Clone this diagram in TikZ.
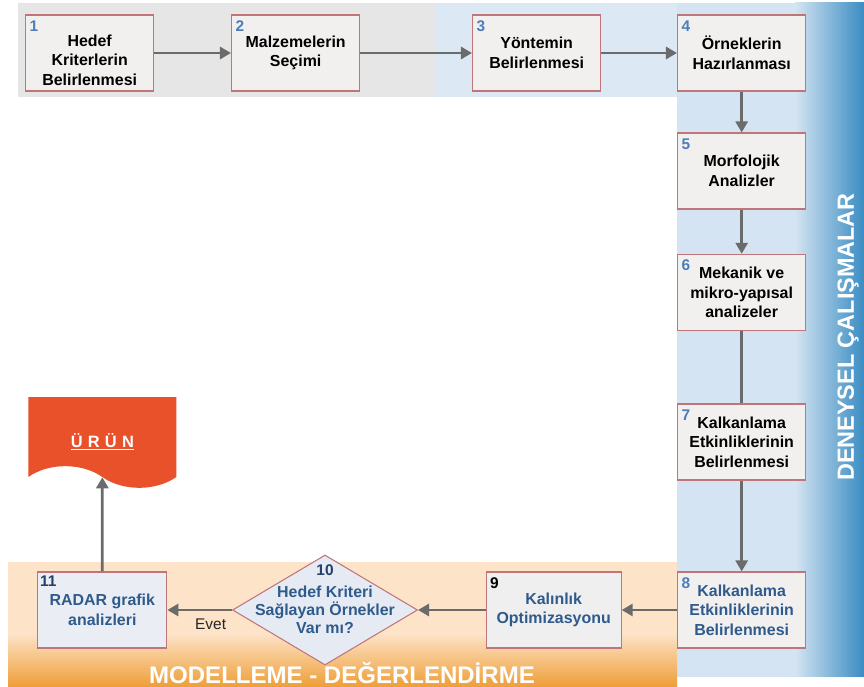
\documentclass[tikz,border=0pt]{standalone}
\usepackage{fontspec}
\setmainfont{Liberation Sans}
\usetikzlibrary{arrows.meta,positioning,shapes.geometric,shapes.symbols}

\definecolor{edgegray}{HTML}{6B6B6B}
\definecolor{boxline}{HTML}{C0757A}
\definecolor{boxfill}{HTML}{F2EFEF}
\definecolor{grayfill}{HTML}{EFEFEF}
\definecolor{bluefill}{HTML}{EAEEF4}
\definecolor{decfill}{HTML}{E6EBF3}
\definecolor{numblue}{HTML}{4A7EBB}
\definecolor{navy}{HTML}{24406A}
\definecolor{textblue}{HTML}{2F5A8C}
\definecolor{bandgray}{HTML}{E6E6E6}
\definecolor{bandblue}{HTML}{DCE8F4}
\definecolor{colblue}{HTML}{D4E4F2}
\definecolor{coldark}{HTML}{3A8CC2}
\definecolor{peach}{HTML}{FDE3C8}
\definecolor{deeporange}{HTML}{EE9E36}
\definecolor{urunred}{HTML}{E8512A}

\begin{document}
\begin{tikzpicture}[
    stage/.style={draw=boxline, line width=0.9pt, fill=boxfill, align=center, minimum width=3.85cm, minimum height=2.28cm, font=\fontsize{13.6}{16.6}\selectfont\bfseries},
    flow/.style={-{Triangle[length=3.3mm, width=3.6mm]}, draw=edgegray, line width=2.4pt},
    num/.style={anchor=north west, inner sep=0pt, font=\fontsize{13.2}{14}\selectfont\bfseries, text=numblue},
    decision/.style={diamond, draw=boxline, line width=0.9pt, fill=decfill, minimum width=5.55cm, minimum height=3.3cm, inner sep=0pt},
    band/.style={font=\fontsize{20.5}{24}\selectfont\bfseries, text=white}
]
    \useasboundingbox (0,0) rectangle (25.92,20.61);

    % background bands
    \fill[bandgray] (0.54,17.70) rectangle (13.05,20.52);
    \fill[bandblue] (13.05,17.70) rectangle (20.31,20.52);
    \fill[colblue] (20.31,0.30) rectangle (23.85,20.52);
    \shade[left color=colblue, right color=coldark] (23.85,0.30) rectangle (25.92,20.52);
    \fill[peach] (0.24,1.6) rectangle (20.31,3.75);
    \shade[top color=peach, bottom color=deeporange] (0.24,0) rectangle (20.31,1.6);

    \node[band, rotate=90, font=\fontsize{20}{24}\selectfont\bfseries] (deneysel) at (25.44,10.5) {DENEYSEL ÇALIŞMALAR};
    \node[band] (model) at (10.26,0.42) {MODELLEME - DEĞERLENDİRME};

    % steps
    \node[stage] (s1) at (2.69,19.02) {\rule{0pt}{0.78cm}Hedef\\Kriterlerin\\Belirlenmesi};
    \node[stage] (s2) at (8.87,19.02) {Malzemelerin\\Seçimi};
    \node[stage] (s3) at (16.10,19.02) {Yöntemin\\Belirlenmesi};
    \node[stage] (s4) at (22.25,19.02) {Örneklerin\\Hazırlanması};
    \node[stage] (s5) at (22.25,15.48) {Morfolojik\\Analizler};
    \node[stage] (s6) at (22.25,11.84) {Mekanik ve\\mikro-yapısal\\analizeler};
    \node[stage] (s7) at (22.25,7.35) {Kalkanlama\\Etkinliklerinin\\Belirlenmesi};
    \node[stage, text=textblue] (s8) at (22.25,2.31) {Kalkanlama\\Etkinliklerinin\\Belirlenmesi};
    \node[stage, text=textblue, fill=grayfill, minimum width=4.05cm] (s9) at (16.61,2.31) {Kalınlık\\Optimizasyonu};
    \node[decision] (s10) at (9.75,2.31) {};
    \node[align=center, text=textblue, font=\fontsize{13.6}{15.4}\selectfont\bfseries] (q10) at (s10) {Hedef Kriteri\\Sağlayan Örnekler\\Var mı?};
    \node[stage, text=textblue, fill=bluefill, minimum width=3.87cm] (s11) at (3.07,2.31) {RADAR grafik\\analizleri};

    \node[tape, tape bend top=none, tape bend bottom=out and in, tape bend height=0.65cm, fill=urunred, minimum width=4.44cm, minimum height=2.72cm, text=white, font=\fontsize{14}{16}\selectfont\bfseries\addfontfeature{LetterSpace=32}] (urun) at (3.07,7.66) {\rule{0pt}{1.05cm}\underline{ÜRÜN}};

    % step numbers
    \foreach \i in {1,...,8}
        \node[num] (n\i) at ([shift={(0.13,-0.17)}]s\i.north west) {\i};
    \node[num, text=black] (n9) at ([shift={(0.13,-0.17)}]s9.north west) {9};
    \node[num, text=navy, anchor=north] (n10) at ([yshift=-0.3cm]s10.north) {10};
    \node[num, text=navy] (n11) at ([shift={(0.08,-0.12)}]s11.north west) {11};

    % arrows
    \draw[flow] (s1) -- (s2);
    \draw[flow] (s2) -- (s3);
    \draw[flow] (s3) -- (s4);
    \draw[flow] (s4) -- (s5);
    \draw[flow] (s5) -- (s6);
    \draw[edgegray, line width=2.4pt] (s6) -- (s7);
    \draw[flow] (s7) -- (s8);
    \draw[flow] (s8) -- (s9);
    \draw[flow] (s9) -- (s10);
    \draw[flow] (s10) -- node[pos=0.33, below=3pt, font=\fontsize{13.2}{15}\selectfont, text=black!85] (evet) {Evet} (s11);
    \draw[flow] (s11) -- (urun);
\end{tikzpicture}
\end{document}
